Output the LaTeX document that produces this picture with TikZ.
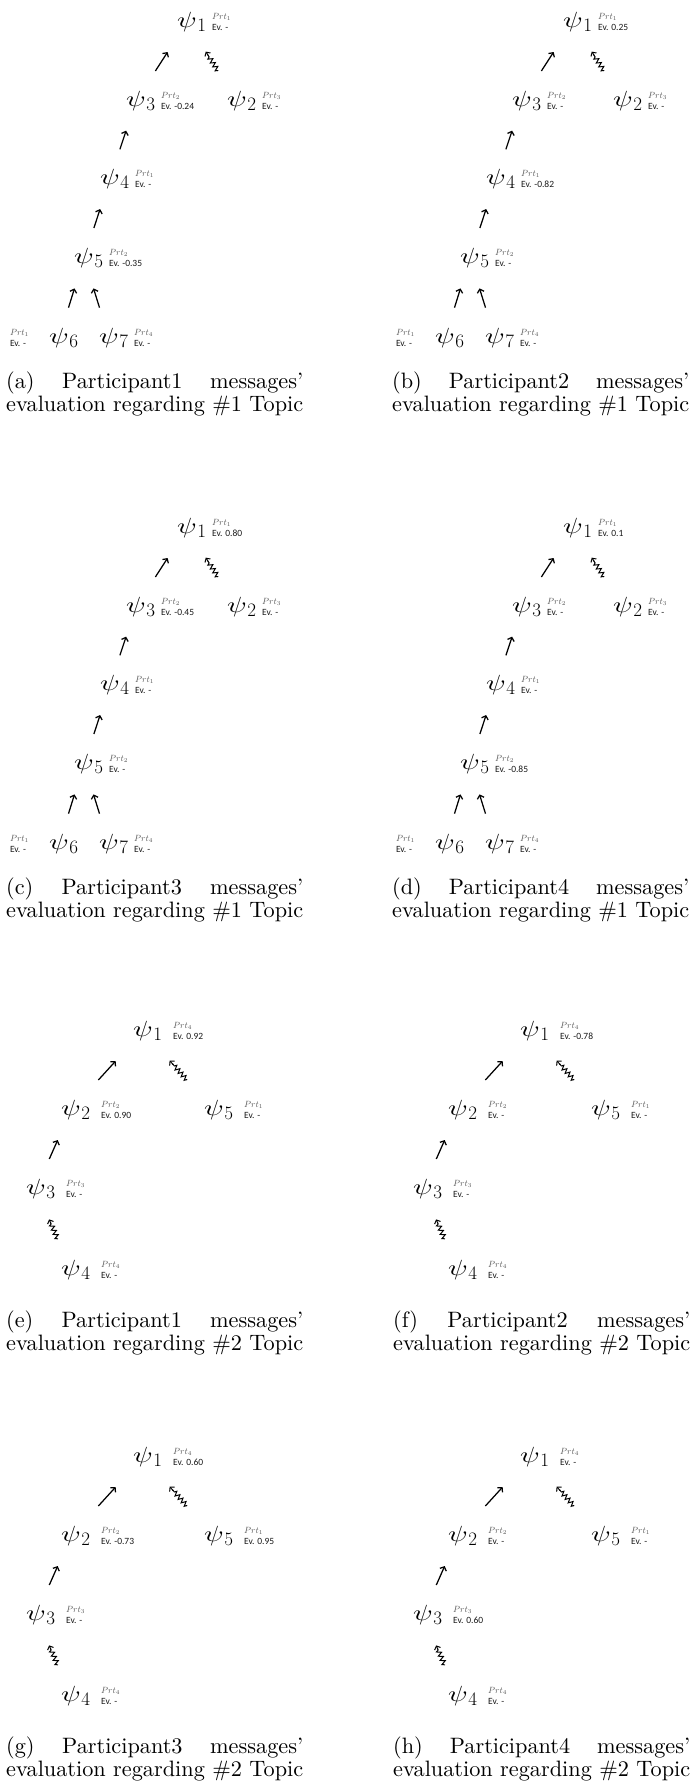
\documentclass[tikz,border=0pt]{standalone}
\usepackage{fontspec}
\usetikzlibrary{calc,arrows.meta,decorations.pathmorphing}
\newfontfamily\evfont{Carlito}
% let the math italic font scale freely
\DeclareFontShape{OML}{cmm}{m}{it}{<-> cmmi10}{}
\definecolor{prtgray}{RGB}{85,85,85}
\definecolor{evblack}{RGB}{25,25,25}
\newsavebox\capbox

% message symbol: psi with a large lowered index; the index is kept out of the node box
\newcommand{\psisym}[1]{\scalebox{1.3}[1]{$\psi$}\rlap{\kern0.6pt\raisebox{-4.3pt}{\fontsize{19}{19}\selectfont #1}}}
% participant / evaluation tag
\newcommand{\tagtext}[2]{{\color{prtgray}\fontsize{9}{9}\selectfont$Prt_{#1}$}\\{\color{evblack}\evfont\fontsize{9.5}{9.5}\selectfont Ev. #2}}

\tikzset{
  psinode/.style={inner sep=0pt, font=\fontsize{22}{22}\selectfont},
  tagnode/.style={inner sep=0pt, align=left, anchor=west, font=\fontsize{9.5}{10.5}\selectfont},
  capnode/.style={inner sep=0pt, anchor=base west},
  reply/.style={line width=1.25pt, -{Straight Barb[length=3.2pt,width=7pt]}},
  wavyline/.style={line width=1pt, decorate,
    decoration={zigzag, segment length=4.6pt, amplitude=2.3pt, pre length=0.5pt, post length=1pt}},
  wavyhead/.style={line width=1pt, -{Straight Barb[length=3pt,width=6.5pt]}},
}
\newcommand{\link}[2]{\draw[reply] ($(#1)!0.38!(#2)$) -- ($(#1)!0.62!(#2)$);}
\newcommand{\wavylink}[2]{%
  \draw[wavyline] ($(#1)!0.38!(#2)$) -- ($(#1)!0.585!(#2)$);
  \draw[wavyhead] ($(#1)!0.575!(#2)$) -- ($(#1)!0.625!(#2)$);}
% caption text, second line at its natural width
\newcommand{\capsecond}[1]{\fontsize{10}{12}\selectfont evaluation regarding \##1 Topic}
% two caption lines: the second one sets the column width, the first is spread over it
\newcommand{\subcap}[4]{%
  \node[capnode] (cap1) at (6,#1) {\sbox\capbox{\capsecond{#4}}\resizebox{297pt}{!}{\hbox to \wd\capbox{\fontsize{10}{12}\selectfont(#2)\hfill Participant#3\hfill messages'}}};
  \node[capnode] (cap2) at (6,#1+23.5) {\resizebox{297pt}{!}{\capsecond{#4}}};}

% thread about topic #1
\newcommand{\TopicOneTree}[6]{%
  \node[psinode] (p1) at (187,22)  {\psisym{1}};
  \node[psinode] (p3) at (136,101) {\psisym{3}};
  \node[psinode] (p2) at (237,101) {\psisym{2}};
  \node[psinode] (p4) at (110,179) {\psisym{4}};
  \node[psinode] (p5) at (84,258)  {\psisym{5}};
  \node[psinode] (p6) at (59,338)  {\psisym{6}};
  \node[psinode] (p7) at (109,338) {\psisym{7}};
  \node[tagnode] (t1) at ($(p1)+(25,0)$) {\tagtext{1}{#1}};
  \node[tagnode] (t3) at ($(p3)+(25,0)$) {\tagtext{2}{#2}};
  \node[tagnode] (t2) at ($(p2)+(25,0)$) {\tagtext{3}{-}};
  \node[tagnode] (t4) at ($(p4)+(25,0)$) {\tagtext{1}{#3}};
  \node[tagnode] (t5) at ($(p5)+(25,0)$) {\tagtext{2}{#4}};
  \node[tagnode, anchor=east] (t6) at ($(p6)+(-30,0)$) {\tagtext{1}{-}};
  \node[tagnode] (t7) at ($(p7)+(25,0)$) {\tagtext{4}{-}};
  \link{p3}{p1}
  \wavylink{p2}{p1}
  \link{p4}{p3}
  \link{p5}{p4}
  \link{p6}{p5}
  \link{p7}{p5}
  \subcap{388}{#5}{#6}{1}
}

% thread about topic #2
\newcommand{\TopicTwoTree}[6]{%
  \node[psinode] (p1) at (143,21)  {\psisym{1}};
  \node[psinode] (p2) at (71,100)  {\psisym{2}};
  \node[psinode] (p5) at (214,100) {\psisym{5}};
  \node[psinode] (p3) at (36,179)  {\psisym{3}};
  \node[psinode] (p4) at (71,260)  {\psisym{4}};
  \node[tagnode] (t1) at ($(p1)+(30,0)$) {\tagtext{4}{#1}};
  \node[tagnode] (t2) at ($(p2)+(30,0)$) {\tagtext{2}{#2}};
  \node[tagnode] (t5) at ($(p5)+(30,0)$) {\tagtext{1}{#3}};
  \node[tagnode] (t3) at ($(p3)+(30,0)$) {\tagtext{3}{#4}};
  \node[tagnode] (t4) at ($(p4)+(30,0)$) {\tagtext{4}{-}};
  \link{p2}{p1}
  \wavylink{p5}{p1}
  \link{p3}{p2}
  \wavylink{p4}{p3}
  \subcap{317}{#5}{#6}{2}
}

\begin{document}
\begin{tikzpicture}[x=1pt, y=-1pt]
  \fill[white] (0,0) rectangle (691,1781);
  \useasboundingbox (0,0) rectangle (691,1781);

  \begin{scope}[name prefix=a-]
    \TopicOneTree{-}{-0.24}{-}{-0.35}{a}{1}
  \end{scope}
  \begin{scope}[shift={(386,0)}, name prefix=b-]
    \TopicOneTree{0.25}{-}{-0.82}{-}{b}{2}
  \end{scope}
  \begin{scope}[shift={(0,506)}, name prefix=c-]
    \TopicOneTree{0.80}{-0.45}{-}{-}{c}{3}
  \end{scope}
  \begin{scope}[shift={(386,506)}, name prefix=d-]
    \TopicOneTree{0.1}{-}{-}{-0.85}{d}{4}
  \end{scope}

  \begin{scope}[shift={(0,1010)}, name prefix=e-]
    \TopicTwoTree{0.92}{0.90}{-}{-}{e}{1}
  \end{scope}
  \begin{scope}[shift={(387,1010)}, name prefix=f-]
    \TopicTwoTree{-0.78}{-}{-}{-}{f}{2}
  \end{scope}
  \begin{scope}[shift={(0,1436)}, name prefix=g-]
    \TopicTwoTree{0.60}{-0.73}{0.95}{-}{g}{3}
  \end{scope}
  \begin{scope}[shift={(387,1436)}, name prefix=h-]
    \TopicTwoTree{-}{-}{-}{0.60}{h}{4}
  \end{scope}
\end{tikzpicture}
\end{document}
